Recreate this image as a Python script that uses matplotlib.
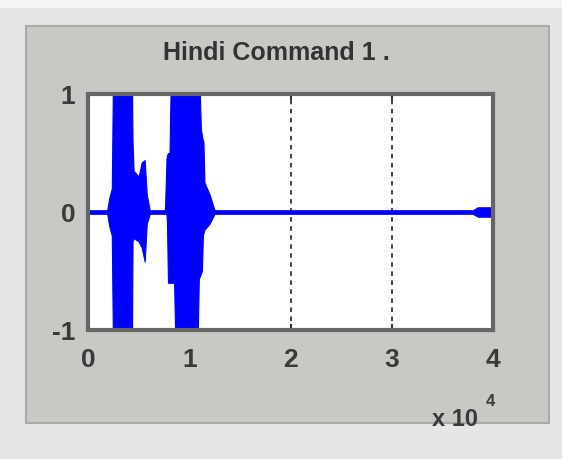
import matplotlib
matplotlib.use("Agg")
import matplotlib.pyplot as plt
from matplotlib.patches import Rectangle

# envelope of the waveform (sample index, upper, lower)
env_x = [0, 1900, 2100, 2350, 2450, 4350, 4400, 4500, 5000, 5300, 5600, 5800, 6100,
         7600, 7750, 7800, 7900, 8050, 8150, 8500, 8600, 10850, 10950, 11050, 11150,
         11250, 11350, 11400, 11500, 12000, 12500, 38000, 38500, 40000]
env_hi = [0.015, 0.015, 0.12, 0.20, 1.00, 1.00, 0.60, 0.35, 0.30, 0.42, 0.44, 0.15, 0.015,
          0.015, 0.45, 0.48, 0.50, 0.50, 1.00, 1.00, 1.00, 1.00, 1.00, 1.00, 0.70,
          0.65, 0.60, 0.60, 0.25, 0.15, 0.015, 0.015, 0.04, 0.04]
env_lo = [-0.015, -0.015, -0.12, -0.20, -1.00, -1.00, -0.25, -0.22, -0.25, -0.30, -0.42, -0.10, -0.015,
          -0.015, -0.015, -0.10, -0.60, -0.60, -0.60, -0.60, -1.00, -1.00, -0.55, -0.55, -0.52,
          -0.50, -0.20, -0.18, -0.15, -0.10, -0.015, -0.015, -0.04, -0.04]

xticks = [0, 10000, 20000, 30000, 40000]
xticklabels = ["0", "1", "2", "3", "4"]
yticks = [-1, 0, 1]
yticklabels = ["-1", "0", "1"]
title = "Hindi Command 1 ."

fam = ["Liberation Sans", "DejaVu Sans"]
W, H = 562, 459

fig = plt.figure(figsize=(5.62, 4.59), dpi=100, facecolor="#e6e6e6")

# light strip on top, grey panel (behind the axes)
fig.patches.append(Rectangle((0, 1 - 8 / H), 1, 8 / H, transform=fig.transFigure,
                             facecolor="#f4f4f4", edgecolor="none", zorder=-5))
fig.patches.append(Rectangle((26 / W, 1 - 423 / H), 523 / W, 397 / H, transform=fig.transFigure,
                             facecolor="#c8c8c4", edgecolor="#a9a9a6", lw=1.5, zorder=-5))

ax = fig.add_axes([88 / W, 1 - 330 / H, 405 / W, 236 / H])
ax.set_zorder(2)
ax.set_facecolor("white")
ax.fill_between(env_x, env_lo, env_hi, color="#0000ff", lw=0.8, edgecolor="#0000ff")

ax.set_xlim(0, 40000)
ax.set_ylim(-1, 1)
ax.set_xticks(xticks)
ax.set_xticklabels(xticklabels)
ax.set_yticks(yticks)
ax.set_yticklabels(yticklabels)
ax.tick_params(direction="in", top=True, right=True, length=4, width=1.5,
               color="#333333", labelsize=19, labelcolor="#3a3a3a")
ax.tick_params(axis="x", pad=13)
ax.tick_params(axis="y", pad=9)
for lab in ax.get_xticklabels() + ax.get_yticklabels():
    lab.set_family(fam)
    lab.set_fontweight("bold")
ax.set_axisbelow(True)
ax.grid(True, axis="x", linestyle=(0, (2.5, 2.5)), color="#333333", lw=1.3)
for s in ax.spines.values():
    s.set_linewidth(3)
    s.set_color("#666666")

fig.text(276 / W, 1 - 53 / H, title, ha="center", va="center", fontsize=18,
         color="#333333", family=fam, weight="bold")
fig.text(455 / W, 1 - 420 / H, "x 10", ha="center", va="center", fontsize=17,
         color="#3a3a3a", family=fam, weight="bold")
fig.text(490 / W, 1 - 401 / H, "4", ha="center", va="center", fontsize=12,
         color="#3a3a3a", family=fam, weight="bold")

fig.savefig("out.png", dpi=100, facecolor=fig.get_facecolor())
